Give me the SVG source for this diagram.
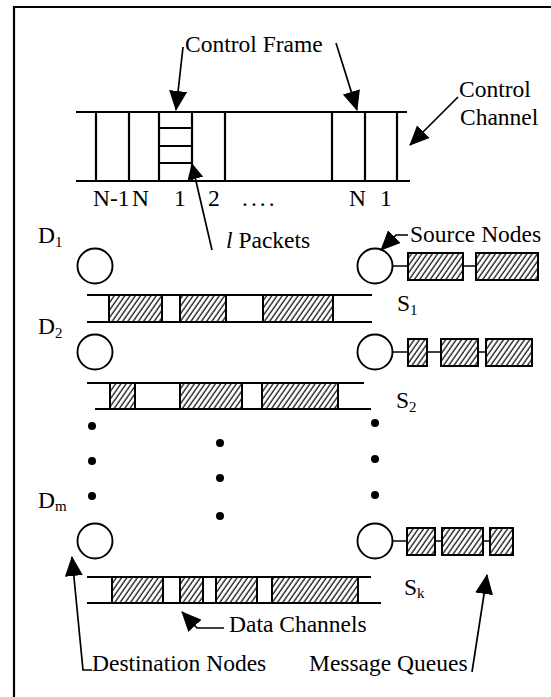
<svg xmlns="http://www.w3.org/2000/svg" width="551" height="697" viewBox="0 0 551 697">
<style>
text{font-family:"Liberation Serif","Times New Roman",serif;font-size:23.5px;fill:#000}
.sub{font-size:15px}
.ln{stroke:#000;stroke-width:2.2;fill:none}
.thin{stroke:#000;stroke-width:1.7;fill:none}
.box{fill:url(#hatch);stroke:#000;stroke-width:2}
.open{fill:none;stroke:#000;stroke-width:2}
.node{fill:#fff;stroke:#000;stroke-width:1.9}
.arr{stroke:#000;stroke-width:1.7;fill:none;marker-end:url(#ah)}
.dot{fill:#000}
</style>
<defs>
<pattern id="hatch" patternUnits="userSpaceOnUse" width="4.3" height="10" patternTransform="rotate(35)">
<rect width="4.3" height="10" fill="#fff"/>
<line x1="1" y1="0" x2="1" y2="10" stroke="#000" stroke-width="1.2"/>
</pattern>
<marker id="ah" viewBox="0 0 20 18" refX="19" refY="9" markerWidth="20" markerHeight="18" markerUnits="userSpaceOnUse" orient="auto">
<path d="M0,0 L20,9 L0,18 z" fill="#000"/>
</marker>
<marker id="ahs" viewBox="0 0 16 16" refX="15" refY="8" markerWidth="16" markerHeight="16" markerUnits="userSpaceOnUse" orient="auto">
<path d="M0,0 L16,8 L0,16 z" fill="#000"/>
</marker>
</defs>

<g id="frame">
<path d="M14,697 L14,7 L551,7" class="ln"/>
</g>

<g id="control-channel">
<line x1="76" y1="112" x2="407" y2="112" class="ln"/>
<line x1="76" y1="181" x2="410" y2="181" class="ln"/>
<g class="ln">
<line x1="96" y1="112" x2="96" y2="181"/>
<line x1="129" y1="112" x2="129" y2="181"/>
<line x1="159" y1="112" x2="159" y2="181"/>
<line x1="192" y1="112" x2="192" y2="181"/>
<line x1="225" y1="112" x2="225" y2="181"/>
<line x1="332" y1="112" x2="332" y2="181"/>
<line x1="365" y1="112" x2="365" y2="181"/>
<line x1="397" y1="112" x2="397" y2="181"/>
<line x1="159" y1="128" x2="192" y2="128"/>
<line x1="159" y1="146" x2="192" y2="146"/>
<line x1="159" y1="163" x2="192" y2="163"/>
</g>
<text x="93" y="206">N-1</text>
<text x="132" y="206">N</text>
<text x="174" y="206">1</text>
<text x="208" y="206">2</text>
<text x="242" y="206" letter-spacing="3">....</text>
<text x="349" y="206">N</text>
<text x="380" y="206">1</text>
</g>

<g id="labels">
<text x="185" y="52">Control Frame</text>
<text x="459" y="97">Control</text>
<text x="460" y="125">Channel</text>
<text x="410" y="242">Source Nodes</text>
<text x="226" y="248"><tspan font-style="italic">l</tspan> Packets</text>
<text x="229" y="632">Data Channels</text>
<text x="92" y="671">Destination Nodes</text>
<text x="309" y="671">Message Queues</text>
</g>

<g id="dest-nodes">
<circle cx="95" cy="266" r="17.5" class="node"/>
<circle cx="95" cy="352" r="17.5" class="node"/>
<circle cx="95" cy="541" r="17.5" class="node"/>
<text x="38" y="243">D<tspan class="sub" dy="4">1</tspan></text>
<text x="38" y="334">D<tspan class="sub" dy="4">2</tspan></text>
<text x="38" y="508">D<tspan class="sub" dy="3">m</tspan></text>
</g>

<g id="source-1">
<line x1="393" y1="266" x2="476" y2="266" class="thin"/>
<circle cx="375" cy="266" r="17.5" class="node"/>
<rect x="408" y="253" width="55" height="27" class="box"/>
<rect x="476" y="253" width="62" height="27" class="box"/>
<text x="397" y="311">S<tspan class="sub" dy="4">1</tspan></text>
</g>

<g id="source-2">
<line x1="393" y1="352" x2="486" y2="352" class="thin"/>
<circle cx="375" cy="352" r="17.5" class="node"/>
<rect x="408" y="339" width="19" height="27" class="box"/>
<rect x="441" y="339" width="37" height="27" class="box"/>
<rect x="486" y="339" width="46" height="27" class="box"/>
<text x="396" y="408">S<tspan class="sub" dy="4">2</tspan></text>
</g>

<g id="source-k">
<line x1="392" y1="541" x2="490" y2="541" class="thin"/>
<circle cx="375" cy="541" r="17.5" class="node"/>
<rect x="407" y="528" width="28" height="27" class="box"/>
<rect x="442" y="528" width="41" height="27" class="box"/>
<rect x="490" y="528" width="23" height="27" class="box"/>
<text x="404" y="595">S<tspan class="sub" dy="3">k</tspan></text>
</g>

<g id="data-channel-1">
<line x1="87" y1="295" x2="372" y2="295" class="ln"/>
<line x1="87" y1="322" x2="372" y2="322" class="ln"/>
<rect x="109" y="295" width="53" height="27" class="box"/>
<rect x="180" y="295" width="46" height="27" class="box"/>
<rect x="263" y="295" width="70" height="27" class="box"/>
</g>

<g id="data-channel-2">
<line x1="87" y1="383" x2="364" y2="383" class="ln"/>
<line x1="95" y1="409" x2="371" y2="409" class="ln"/>
<rect x="110" y="383" width="25" height="26" class="box"/>
<rect x="135" y="383" width="45" height="26" class="open"/>
<rect x="180" y="383" width="62" height="26" class="box"/>
<rect x="262" y="383" width="76" height="26" class="box"/>
</g>

<g id="data-channel-k">
<line x1="87" y1="577" x2="371" y2="577" class="ln"/>
<line x1="87" y1="603" x2="381" y2="603" class="ln"/>
<rect x="112" y="577" width="51" height="26" class="box"/>
<rect x="163" y="577" width="17" height="26" class="open"/>
<rect x="180" y="577" width="23" height="26" class="box"/>
<rect x="216" y="577" width="41" height="26" class="box"/>
<rect x="257" y="577" width="15" height="26" class="open"/>
<rect x="272" y="577" width="86" height="26" class="box"/>
</g>

<g id="ellipsis">
<circle cx="92" cy="426" r="4" class="dot"/>
<circle cx="92" cy="461" r="4" class="dot"/>
<circle cx="92" cy="496" r="4" class="dot"/>
<circle cx="220" cy="443" r="4" class="dot"/>
<circle cx="220" cy="478" r="4" class="dot"/>
<circle cx="220" cy="516" r="4" class="dot"/>
<circle cx="375" cy="423" r="4" class="dot"/>
<circle cx="375" cy="459" r="4" class="dot"/>
<circle cx="375" cy="495" r="4" class="dot"/>
</g>

<g id="connectors">
<line x1="183" y1="47" x2="176" y2="110" class="arr"/>
<line x1="336" y1="43" x2="357" y2="110" class="arr"/>
<line x1="458" y1="97" x2="410" y2="145" class="arr"/>
<line x1="212" y1="250" x2="192" y2="164" class="thin" marker-end="url(#ahs)"/>
<polyline points="408,235 396,235 381,250" class="arr"/>
<polyline points="224,628 197,628 182,612" class="arr"/>
<polyline points="92,670 83,670 72,557" class="arr"/>
<line x1="472" y1="672" x2="487" y2="575" class="arr"/>
</g>
</svg>
